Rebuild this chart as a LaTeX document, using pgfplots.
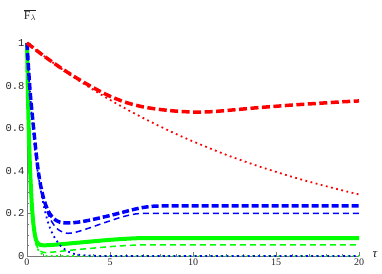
\documentclass[border=0pt]{standalone}
\usepackage{fontspec}
\setmainfont{Liberation Serif}
\newfontfamily\monofont{Liberation Mono}
\usepackage{pgfplots}
\pgfplotsset{compat=1.18}
\definecolor{mred}{RGB}{255,0,0}
\definecolor{mblue}{RGB}{0,0,255}
\definecolor{mgreen}{RGB}{0,255,0}
\definecolor{axgray}{RGB}{120,120,120}
\begin{document}
\begin{tikzpicture}
\path[use as bounding box] (-27pt,-17pt) rectangle (355pt,256pt);
\begin{axis}[
  at={(0pt,0pt)}, anchor=origin,
  scale only axis, width=332pt, height=213pt,
  xmin=0, xmax=20, ymin=0, ymax=1,
  axis lines=left,
  axis line style={draw=axgray, line width=0.5pt, -},
  tick style={draw=axgray, line width=0.4pt},
  tick align=inside,
  major tick length=4pt, minor tick length=2pt,
  xtick={0,5,10,15,20}, xticklabels={0,5,10,15,20},
  minor x tick num=4,
  ytick={0,0.2,0.4,0.6,0.8,1}, yticklabels={0,0.2,0.4,0.6,0.8,1},
  minor y tick num=3,
  /pgf/number format/assume math mode=true,
  x tick label style={font=\fontsize{10}{10}\selectfont, text=black!85, yshift=1pt},
  y tick label style={font=\monofont\fontsize{10.5}{10}\selectfont, text=black!85, xshift=1pt},
  clip=false,
]
% green solid thick
\addplot[mgreen, line width=4pt, smooth] coordinates {
(0,1) (0.05,0.78) (0.1,0.61) (0.15,0.48) (0.2,0.38) (0.3,0.23) (0.4,0.14) (0.5,0.09) (0.6,0.065) (0.8,0.052) (1,0.05) (1.5,0.052) (2,0.055) (3,0.062) (4,0.069) (5,0.076) (6,0.081) (6.5,0.083) (7,0.084) (9,0.084) (14,0.084) (20,0.084)};
% green thin dashed
\addplot[mgreen, line width=1.5pt, dash pattern=on 6pt off 4pt, smooth] coordinates {
(0,1) (0.05,0.78) (0.1,0.6) (0.2,0.36) (0.3,0.21) (0.4,0.12) (0.5,0.07) (0.7,0.03) (1,0.017) (1.5,0.018) (2,0.022) (3,0.03) (4,0.037) (5,0.044) (6,0.049) (6.5,0.051) (7,0.052) (9,0.052) (14,0.052) (20,0.052)};
% green dotted
\addplot[mgreen, line width=1.8pt, dash pattern=on 1.8pt off 3.5pt, smooth] coordinates {
(0,1) (0.1,0.6) (0.2,0.35) (0.3,0.2) (0.4,0.12) (0.5,0.07) (0.7,0.025) (1,0.005) (1.5,0) (5,0) (10,0) (15,0) (20,0)};
% blue thick dashed
\addplot[mblue, line width=3.5pt, dash pattern=on 7pt off 3pt, smooth] coordinates {
(0,1) (0.1,0.87) (0.2,0.76) (0.36,0.63) (0.5,0.52) (0.66,0.41) (0.8,0.34) (1.0,0.27) (1.25,0.215) (1.5,0.185) (1.75,0.167) (2,0.158) (2.5,0.155) (3,0.158) (3.5,0.164) (4,0.172) (4.5,0.181) (5,0.19) (5.5,0.2) (6,0.21) (6.5,0.22) (7,0.228) (7.5,0.233) (8,0.235) (9,0.235) (12,0.235) (16,0.235) (20,0.235)};
% blue thin dashed
\addplot[mblue, line width=1.5pt, dash pattern=on 6pt off 4pt, smooth] coordinates {
(0,1) (0.1,0.87) (0.2,0.76) (0.36,0.62) (0.5,0.51) (0.66,0.40) (0.8,0.33) (1,0.26) (1.25,0.2) (1.5,0.16) (1.75,0.133) (2,0.118) (2.3,0.108) (2.6,0.107) (3,0.113) (3.5,0.125) (4,0.138) (4.5,0.152) (5,0.165) (5.5,0.178) (6,0.189) (6.5,0.197) (7,0.2) (8,0.2) (10,0.2) (14,0.2) (20,0.2)};
% blue dotted
\addplot[mblue, line width=1.8pt, dash pattern=on 1.8pt off 3.5pt, smooth] coordinates {
(0,1) (0.15,0.8) (0.3,0.65) (0.6,0.42) (1,0.24) (1.3,0.15) (1.6,0.095) (2,0.05) (2.5,0.02) (3,0.007) (4,0.001) (5,0) (10,0) (15,0) (20,0)};
% red thick dashed
\addplot[mred, line width=3.5pt, dash pattern=on 8pt off 3.5pt, smooth] coordinates {
(0,1.0) (0.5,0.97) (1,0.94) (2,0.885) (3,0.835) (4,0.79) (5,0.75) (6,0.72) (7,0.70) (8,0.688) (9,0.68) (10,0.676) (11,0.677) (12,0.683) (13,0.69) (14,0.697) (15,0.703) (16,0.709) (17,0.714) (18,0.719) (19,0.724) (20,0.728)};
% red dotted
\addplot[mred, line width=1.8pt, dash pattern=on 1.8pt off 3.5pt, smooth] coordinates {
(0,1.0) (1,0.940) (2,0.883) (3,0.830) (4,0.780) (5,0.733) (6,0.689) (7,0.648) (8,0.609) (9,0.572) (10,0.538) (11,0.506) (12,0.475) (13,0.447) (14,0.420) (15,0.395) (16,0.371) (17,0.349) (18,0.328) (19,0.308) (20,0.289)};
\end{axis}
\node[text=black!85, inner sep=0pt] at (3pt,241pt) {\fontsize{12}{12}\selectfont$\overline{\mathrm{F}_{\lambda}}$};
\node[text=black!85, inner sep=0pt] at (348pt,1pt) {\fontsize{13}{13}\selectfont\itshape τ};
\end{tikzpicture}
\end{document}
